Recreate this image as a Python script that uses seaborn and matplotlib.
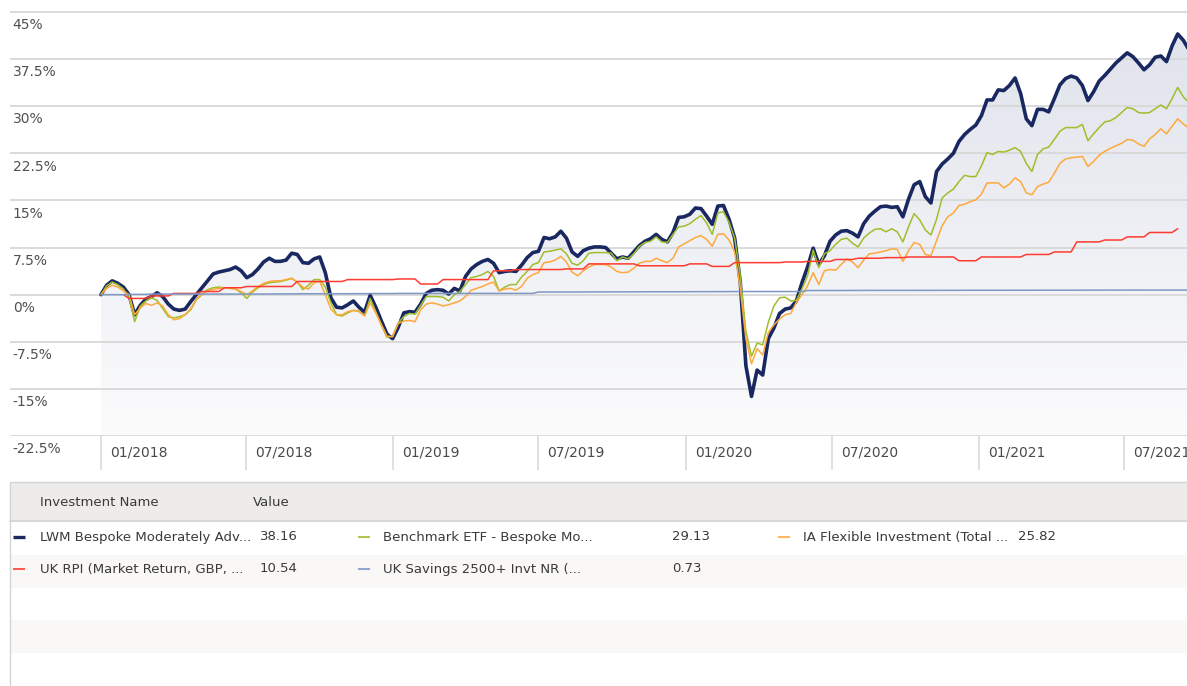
import numpy as np
import pandas as pd
import matplotlib
matplotlib.use("Agg")
import matplotlib.pyplot as plt
import matplotlib.dates as mdates
from matplotlib.patches import Rectangle
from matplotlib.lines import Line2D
from matplotlib.colors import LinearSegmentedColormap
import seaborn as sns

# weekly cumulative returns (%), first week 2018-01-01
lwm = [0.0, 1.5, 2.2, 1.8, 1.2, 0.0, -3.2, -1.7, -0.7, -0.3,
       0.3, -0.3, -1.5, -2.3, -2.5, -2.3, -1.1, 0.0, 1.1, 2.2,
       3.3, 3.6, 3.8, 4.0, 4.4, 3.8, 2.7, 3.2, 4.1, 5.2,
       5.8, 5.3, 5.3, 5.5, 6.6, 6.4, 5.1, 5.0, 5.7, 6.0,
       3.5, -0.5, -2.0, -2.1, -1.6, -1.0, -2.0, -2.8, -0.1, -2.0,
       -4.2, -6.3, -7.0, -5.2, -2.9, -2.7, -2.8, -1.5, 0.2, 0.7,
       0.8, 0.7, 0.1, 1.0, 0.6, 2.9, 4.1, 4.8, 5.3, 5.6,
       5.0, 3.5, 3.7, 3.8, 3.7, 4.7, 5.9, 6.7, 6.9, 9.1,
       8.9, 9.2, 10.1, 9.0, 6.8, 6.1, 7.0, 7.4, 7.6, 7.6,
       7.5, 6.6, 5.7, 6.0, 5.8, 6.8, 7.8, 8.5, 8.9, 9.6,
       8.8, 8.4, 9.9, 12.3, 12.4, 12.8, 13.8, 13.7, 12.5, 11.2,
       14.1, 14.2, 12.0, 9.0, 2.0, -11.3, -16.2, -12.0, -12.8, -7.0,
       -5.3, -3.0, -2.3, -2.1, -1.0, 1.9, 4.4, 7.4, 4.8, 6.2,
       8.5, 9.5, 10.1, 10.2, 9.8, 9.2, 11.3, 12.5, 13.3, 14.0,
       14.1, 13.9, 14.0, 12.4, 15.2, 17.5, 18.0, 15.6, 14.6, 19.6,
       20.8, 21.6, 22.5, 24.4, 25.5, 26.3, 27.0, 28.5, 31.0, 31.0,
       32.6, 32.5, 33.3, 34.5, 32.0, 28.0, 26.9, 29.5, 29.5, 29.1,
       31.2, 33.4, 34.4, 34.8, 34.5, 33.3, 30.9, 32.3, 34.0, 34.9,
       35.9, 36.9, 37.7, 38.5, 37.9, 36.9, 35.8, 36.6, 37.8, 38.0,
       37.1, 39.6, 41.5, 40.5, 39.0]

bench = [0.0, 1.4, 2.0, 1.6, 0.9, -0.5, -4.3, -1.8, -1.0, -0.5,
         -0.9, -2.2, -3.5, -3.7, -3.5, -3.2, -2.4, -0.8, 0.0, 0.8,
         1.1, 1.2, 1.1, 1.0, 0.9, 0.3, -0.6, 0.4, 1.1, 1.6,
         1.9, 2.0, 2.1, 2.3, 2.6, 2.0, 0.8, 1.5, 2.4, 2.4,
         1.2, -1.3, -3.2, -3.4, -2.9, -2.5, -2.6, -3.3, -0.6, -2.7,
         -4.8, -6.8, -6.6, -4.5, -3.5, -3.0, -3.1, -1.7, -0.3, -0.3,
         -0.3, -0.4, -1.0, 0.0, 0.5, 1.6, 2.7, 2.9, 3.2, 3.7,
         2.9, 0.6, 1.2, 1.6, 1.6, 2.8, 3.7, 4.8, 5.1, 6.8,
         6.9, 7.1, 7.3, 6.5, 5.0, 4.7, 5.4, 6.6, 6.7, 6.7,
         6.7, 6.6, 5.4, 6.0, 5.7, 6.5, 7.7, 8.3, 8.5, 9.2,
         8.4, 8.3, 9.6, 10.8, 10.9, 11.3, 12.0, 12.6, 11.4, 9.6,
         13.0, 13.2, 11.5, 9.0, 3.0, -5.8, -9.8, -7.7, -8.0, -4.4,
         -1.8, -0.5, -0.4, -1.0, -0.9, 0.9, 3.0, 7.1, 4.3, 6.5,
         7.0, 8.0, 8.8, 9.0, 8.2, 7.6, 9.0, 9.8, 10.4, 10.5,
         10.0, 10.5, 10.0, 8.4, 10.8, 12.9, 11.9, 10.3, 9.5, 12.0,
         15.4, 16.2, 16.8, 18.0, 19.0, 18.8, 18.8, 20.5, 22.6, 22.3,
         22.8, 22.7, 23.0, 23.4, 22.8, 20.9, 19.6, 22.3, 23.2, 23.5,
         24.7, 26.0, 26.6, 26.6, 26.6, 27.1, 24.5, 25.6, 26.6, 27.5,
         27.7, 28.2, 29.0, 29.8, 29.6, 29.0, 28.9, 29.0, 29.6, 30.2,
         29.6, 31.2, 33.0, 31.5, 30.6]

ia_flex = [0.0, 1.0, 1.5, 1.2, 0.6, 0.0, -3.2, -2.1, -1.4, -1.7,
           -1.3, -1.8, -3.2, -4.0, -3.8, -3.2, -2.2, -0.7, 0.1, 0.6,
           0.8, 1.0, 1.1, 1.1, 0.9, 0.5, 0.0, 0.6, 1.3, 1.8,
           2.1, 2.2, 2.2, 2.4, 2.6, 2.0, 1.2, 0.9, 1.9, 2.1,
           0.0, -2.3, -3.2, -3.2, -2.7, -2.5, -2.7, -3.4, -1.3, -2.9,
           -4.8, -6.6, -6.7, -4.6, -4.2, -4.1, -4.3, -2.4, -1.5, -1.3,
           -1.5, -1.8, -1.6, -1.3, -1.0, -0.3, 0.7, 1.0, 1.3, 1.7,
           2.0, 0.6, 0.9, 1.0, 0.7, 1.3, 2.6, 3.2, 3.5, 5.1,
           5.2, 5.5, 6.1, 5.2, 3.6, 3.0, 3.8, 4.4, 4.8, 4.8,
           4.8, 4.4, 3.7, 3.5, 3.6, 4.2, 5.0, 5.3, 5.3, 5.8,
           5.4, 5.1, 5.8, 7.6, 8.1, 8.6, 9.1, 9.4, 8.8, 7.7,
           9.6, 9.7, 8.7, 6.8, 1.0, -7.0, -11.0, -8.6, -9.6, -6.0,
           -4.8, -3.9, -3.2, -3.0, -1.2, 0.0, 1.4, 3.5, 1.6, 3.8,
           4.0, 3.9, 4.8, 5.7, 5.2, 4.3, 5.5, 6.5, 6.6, 6.8,
           7.0, 7.3, 7.2, 5.3, 7.0, 8.3, 8.0, 6.4, 6.2, 8.6,
           11.0, 12.4, 13.0, 14.2, 14.4, 14.8, 15.1, 16.0, 17.8, 17.8,
           17.8, 17.0, 17.6, 18.6, 18.0, 16.2, 15.9, 17.2, 17.6, 17.9,
           19.3, 20.9, 21.6, 21.8, 21.9, 22.0, 20.4, 21.2, 22.2, 22.8,
           23.3, 23.7, 24.1, 24.7, 24.6, 24.0, 23.6, 24.8, 25.5, 26.4,
           25.6, 26.8, 28.0, 27.2, 26.5]

# monthly series, Jan 2018 .. Sep 2021
rpi = [0.0, -0.6, -0.2, 0.2, 0.5, 1.1, 1.3, 1.3, 2.1, 2.1, 2.4, 2.4,
       2.5, 1.7, 2.4, 2.4, 3.8, 4.0, 4.0, 4.1, 4.9, 4.9, 4.6, 4.6,
       4.9, 4.5, 5.1, 5.1, 5.2, 5.3, 5.6, 5.8, 5.9, 6.0, 6.0, 5.4,
       6.0, 6.0, 6.4, 6.8, 8.4, 8.7, 9.2, 9.9, 10.5]
savings = [0.0, 0.05, 0.1, 0.1, 0.1, 0.1, 0.1, 0.12, 0.14, 0.15, 0.16, 0.18,
           0.2, 0.2, 0.2, 0.2, 0.2, 0.2, 0.42, 0.43, 0.44, 0.45, 0.46, 0.47,
           0.48, 0.49, 0.5, 0.5, 0.5, 0.66, 0.67, 0.68, 0.68, 0.69, 0.69, 0.7,
           0.7, 0.7, 0.71, 0.71, 0.72, 0.72, 0.72, 0.73, 0.73]

names = ["LWM Bespoke Moderately Adv...", "Benchmark ETF - Bespoke Mo...",
         "IA Flexible Investment (Total ...", "UK RPI (Market Return, GBP, ...",
         "UK Savings 2500+ Invt NR (..."]
final_values = ["38.16", "29.13", "25.82", "10.54", "0.73"]
colors = ["#1a2861", "#9fbe2a", "#ffa83c", "#ff3b30", "#7e97c5"]

y_ticks = [45, 37.5, 30, 22.5, 15, 7.5, 0, -7.5, -15, -22.5]
y_labels = ["45%", "37.5%", "30%", "22.5%", "15%", "7.5%", "0%", "-7.5%", "-15%", "-22.5%"]
x_ticks = ["2018-01-01", "2018-07-01", "2019-01-01", "2019-07-01", "2020-01-01",
           "2020-07-01", "2021-01-01", "2021-07-01"]
x_labels = ["01/2018", "07/2018", "01/2019", "07/2019", "01/2020", "07/2020", "01/2021", "07/2021"]

weeks = pd.date_range("2018-01-01", periods=len(lwm), freq="7D")
months = pd.date_range("2018-01-01", periods=len(rpi), freq="MS")
rpi_w = pd.Series(rpi, index=months).reindex(weeks, method="ffill")
rpi_w = rpi_w[(rpi_w.index >= "2018-01-29") & (rpi_w.index <= "2021-09-06")]
sav_w = pd.Series(savings, index=months).reindex(weeks, method="ffill")

sns.set_style("white")
plt.rcParams["font.family"] = ["DejaVu Sans"]

W, H = 1187, 686
fig = plt.figure(figsize=(W / 100, H / 100), dpi=100)
ax = fig.add_axes([10 / W, 1 - 436 / H, 1 - 10 / W, 436 / H])

# lines
sns.lineplot(x=weeks, y=lwm, ax=ax, color=colors[0], linewidth=2.6, zorder=5)
sns.lineplot(x=weeks, y=bench, ax=ax, color=colors[1], linewidth=1.1, zorder=6)
sns.lineplot(x=weeks, y=ia_flex, ax=ax, color=colors[2], linewidth=1.1, zorder=6)
sns.lineplot(x=rpi_w.index, y=rpi_w.values, ax=ax, color=colors[3], linewidth=1.1, zorder=7)
sns.lineplot(x=sav_w.index, y=sav_w.values, ax=ax, color=colors[4], linewidth=1.1, zorder=7)

t0 = mdates.date2num(pd.Timestamp("2018-01-01"))
x0, x1 = t0 - 91 / 0.8011, t0 + 1086 / 0.8011
ymin, ymax = -22.5, 45 + 12 * 67.5 / 424

# gradient area under the main series
poly = ax.fill_between(weeks, lwm, ymin, color="none", linewidth=0)
cmap = LinearSegmentedColormap.from_list("area", ["#fcfcfd", "#dfe2eb"])
im = ax.imshow(np.linspace(0, 1, 256).reshape(-1, 1), cmap=cmap, aspect="auto",
               extent=[x0, x1, ymin, 45], origin="lower", zorder=1)
im.set_clip_path(poly.get_paths()[0], transform=ax.transData)

for v, lab in zip(y_ticks, y_labels):
    ax.axhline(v, color="#d8d8d8", linewidth=1.3, zorder=2)
    ax.annotate(lab, xy=(0, v), xycoords=("axes fraction", "data"), xytext=(2, -9.5),
                textcoords="offset points", va="center", ha="left", fontsize=10,
                color="#505050", annotation_clip=False)

ax.set_xlim(x0, x1)
ax.set_ylim(ymin, ymax)
ax.set_xlabel("")
ax.set_ylabel("")
for s in ax.spines.values():
    s.set_visible(False)
ax.set_yticks([])
ax.set_xticks([mdates.date2num(pd.Timestamp(d)) for d in x_ticks])
ax.set_xticklabels([])
ax.tick_params(axis="x", direction="out", length=24.5, width=1.2, color="#dadada", bottom=True)
for d, lab in zip(x_ticks, x_labels):
    ax.annotate(lab, xy=(mdates.date2num(pd.Timestamp(d)), 0), xycoords=("data", "axes fraction"),
                xytext=(6.5, -12), textcoords="offset points", va="center", ha="left",
                fontsize=10, color="#4a4a4a", annotation_clip=False)


# table below the chart (pixel helpers)
def box(x, y, w, h, fc, ec="none", lw=0):
    fig.add_artist(Rectangle((x / W, 1 - (y + h) / H), w / W, h / H, transform=fig.transFigure,
                             facecolor=fc, edgecolor=ec, linewidth=lw))


def txt(x, y, s):
    fig.text(x / W, 1 - y / H, s, va="center", ha="left", fontsize=9.5, color="#3a3a3a")


def dash(x, y, c, lw):
    fig.add_artist(Line2D([x / W, (x + 12) / W], [1 - y / H, 1 - y / H], transform=fig.transFigure,
                          color=c, linewidth=lw, solid_capstyle="butt"))


box(10, 521, 1190, 34, "white")
box(10, 555, 1190, 33, "#f9f8f6")
box(10, 588, 1190, 32, "white")
box(10, 620, 1190, 33, "#f9f8f6")
box(10, 653, 1190, 40, "white")
box(10, 482, 1190, 39, "#eeecea")
fig.add_artist(Line2D([10 / W, 1], [1 - 521 / H, 1 - 521 / H], transform=fig.transFigure,
                      color="#d9d7d5", linewidth=1.5))
fig.add_artist(Line2D([10 / W, 1], [1 - 482 / H, 1 - 482 / H], transform=fig.transFigure,
                      color="#d4d4d4", linewidth=1.0))
fig.add_artist(Line2D([10 / W, 10 / W], [0, 1 - 482 / H], transform=fig.transFigure,
                      color="#d4d4d4", linewidth=1.0))

txt(40, 502, "Investment Name")
txt(253, 502, "Value")

rows = [(13, 537, 40, 260), (358, 537, 383, 672), (778, 537, 803, 1018),
        (13, 569, 40, 260), (358, 569, 383, 672)]
for i, (dx, y, nx, vx) in enumerate(rows):
    dash(dx, y, colors[i], 2.4 if i == 0 else 1.2)
    txt(nx, y, names[i])
    txt(vx, y, final_values[i])

fig.savefig("out.png", dpi=100)
